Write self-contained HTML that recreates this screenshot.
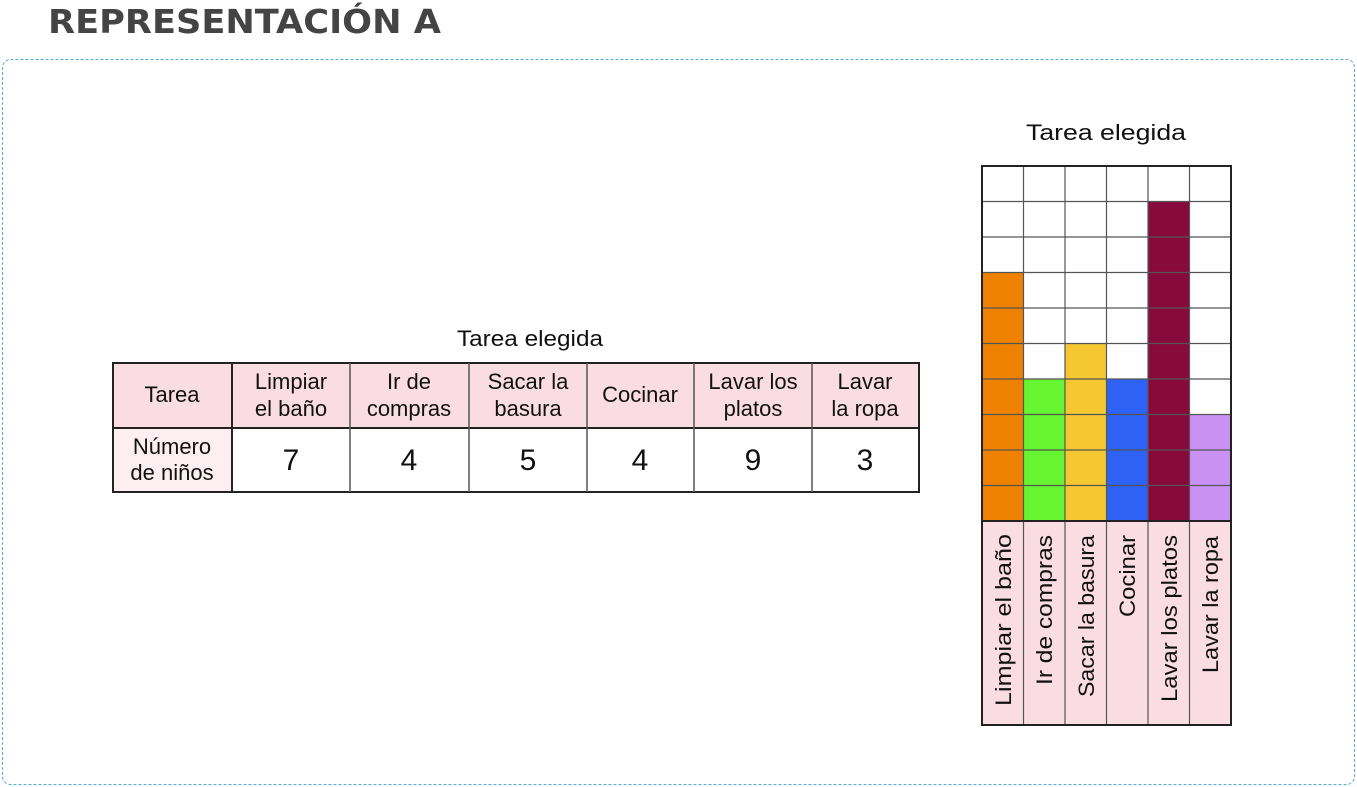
<!DOCTYPE html>
<html><head><meta charset="utf-8"><style>
html,body{margin:0;padding:0;background:#fff;}
svg{display:block;font-family:"Liberation Sans",sans-serif;}
</style></head><body>
<svg width="1357" height="787" viewBox="0 0 1357 787">
<text x="48" y="33" font-size="33" font-weight="bold" fill="#444" font-family="DejaVu Sans, Liberation Sans, sans-serif" textLength="393" lengthAdjust="spacingAndGlyphs">REPRESENTACIÓN A</text>
<rect x="2.5" y="59.5" width="1352" height="725" rx="8" fill="none" stroke="#5aa9d6" stroke-width="1" stroke-dasharray="3,2"/>

<!-- table -->
<text x="530" y="346" font-size="22" text-anchor="middle" fill="#111" textLength="146" lengthAdjust="spacingAndGlyphs">Tarea elegida</text>
<rect x="113" y="363" width="806" height="65" fill="#fadce3"/>
<rect x="113" y="428" width="119" height="64" fill="#fdeef2"/>
<g stroke="#555" stroke-width="1.5" fill="none">
<rect x="113" y="363" width="806" height="129" stroke="#222" stroke-width="2"/>
<line x1="113" y1="428" x2="919" y2="428" stroke="#222" stroke-width="2"/>
<line x1="232" y1="363" x2="232" y2="492" stroke="#222" stroke-width="2"/>
<line x1="350" y1="363" x2="350" y2="492"/>
<line x1="469" y1="363" x2="469" y2="492"/>
<line x1="587" y1="363" x2="587" y2="492"/>
<line x1="694" y1="363" x2="694" y2="492"/>
<line x1="812" y1="363" x2="812" y2="492"/>
</g>
<g font-size="22" text-anchor="middle" fill="#111">
<text x="172" y="402">Tarea</text>
<text x="291" y="389">Limpiar</text><text x="291" y="416">el baño</text>
<text x="409" y="389">Ir de</text><text x="409" y="416">compras</text>
<text x="528" y="389">Sacar la</text><text x="528" y="416">basura</text>
<text x="640" y="402">Cocinar</text>
<text x="753" y="389">Lavar los</text><text x="753" y="416">platos</text>
<text x="865" y="389">Lavar</text><text x="865" y="416">la ropa</text>
<text x="172" y="454">Número</text><text x="172" y="480">de niños</text>
</g>
<g font-size="30" text-anchor="middle" fill="#111">
<text x="291" y="470">7</text><text x="409" y="470">4</text><text x="528" y="470">5</text>
<text x="640" y="470">4</text><text x="753" y="470">9</text><text x="865" y="470">3</text>
</g>

<!-- chart -->
<text x="1106" y="140" font-size="22" text-anchor="middle" fill="#111" textLength="160" lengthAdjust="spacingAndGlyphs">Tarea elegida</text>
<rect x="982" y="521" width="249" height="204" fill="#fadce3"/>
<rect x="982" y="272.5" width="41.5" height="248.5" fill="#ee8200"/>
<rect x="1023.5" y="379" width="41.5" height="142" fill="#66f530"/>
<rect x="1065" y="343.5" width="41.5" height="177.5" fill="#f5c832"/>
<rect x="1106.5" y="379" width="41.5" height="142" fill="#2d62f5"/>
<rect x="1148" y="201.5" width="41.5" height="319.5" fill="#870a3b"/>
<rect x="1189.5" y="414.5" width="41.5" height="106.5" fill="#c992f2"/>
<g stroke="#555" stroke-width="1.2">
<line x1="982" y1="201.5" x2="1231" y2="201.5"/>
<line x1="982" y1="237" x2="1231" y2="237"/>
<line x1="982" y1="272.5" x2="1231" y2="272.5"/>
<line x1="982" y1="308" x2="1231" y2="308"/>
<line x1="982" y1="343.5" x2="1231" y2="343.5"/>
<line x1="982" y1="379" x2="1231" y2="379"/>
<line x1="982" y1="414.5" x2="1231" y2="414.5"/>
<line x1="982" y1="450" x2="1231" y2="450"/>
<line x1="982" y1="485.5" x2="1231" y2="485.5"/>
<line x1="1023.5" y1="166" x2="1023.5" y2="725"/>
<line x1="1065" y1="166" x2="1065" y2="725"/>
<line x1="1106.5" y1="166" x2="1106.5" y2="725"/>
<line x1="1148" y1="166" x2="1148" y2="725"/>
<line x1="1189.5" y1="166" x2="1189.5" y2="725"/>
</g>
<line x1="982" y1="521" x2="1231" y2="521" stroke="#222" stroke-width="2"/>
<rect x="982" y="166" width="249" height="559" fill="none" stroke="#222" stroke-width="2"/>
<g font-size="22" fill="#111">
<text transform="translate(1011,706) rotate(-90)" textLength="172" lengthAdjust="spacingAndGlyphs">Limpiar el baño</text>
<text transform="translate(1052,685) rotate(-90)" textLength="150" lengthAdjust="spacingAndGlyphs">Ir de compras</text>
<text transform="translate(1094,697) rotate(-90)" textLength="162" lengthAdjust="spacingAndGlyphs">Sacar la basura</text>
<text transform="translate(1135,617) rotate(-90)" textLength="82" lengthAdjust="spacingAndGlyphs">Cocinar</text>
<text transform="translate(1177,702) rotate(-90)" textLength="167" lengthAdjust="spacingAndGlyphs">Lavar los platos</text>
<text transform="translate(1218,673) rotate(-90)" textLength="137" lengthAdjust="spacingAndGlyphs">Lavar la ropa</text>
</g>
</svg>
</body></html>
